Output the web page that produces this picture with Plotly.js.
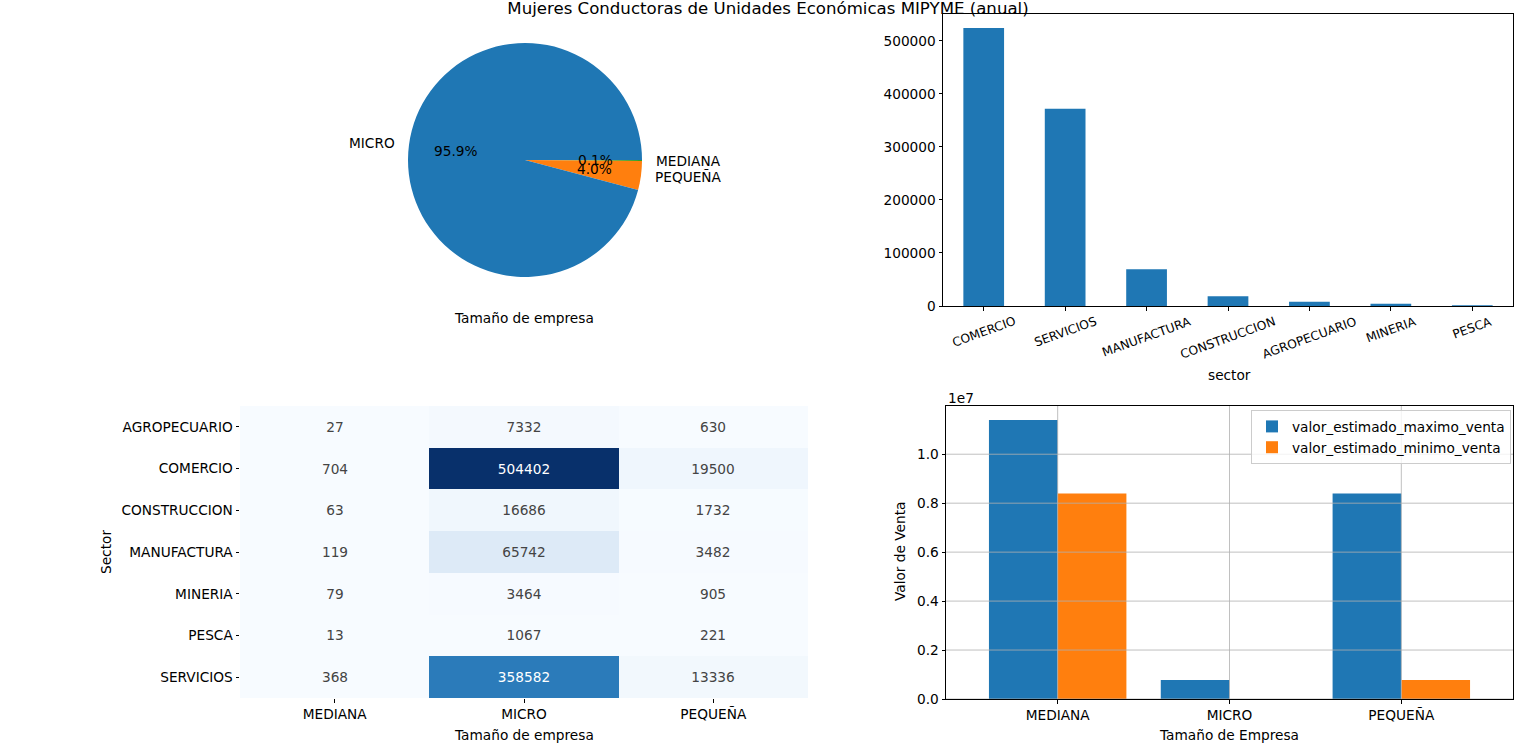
<!DOCTYPE html>
<html>
<head>
<meta charset="utf-8">
<script src="https://cdn.plot.ly/plotly-3.0.1.min.js"></script>
<style>
  html, body { margin: 0; padding: 0; background: #fff; }
  #chart { width: 1536px; height: 754px; }
</style>
</head>
<body>
<div id="chart"></div>
<script>
// sectors x company size (count of units run by women)
var sectores = ['AGROPECUARIO', 'COMERCIO', 'CONSTRUCCION', 'MANUFACTURA', 'MINERIA', 'PESCA', 'SERVICIOS'];
var tamanos = ['MEDIANA', 'MICRO', 'PEQUEÑA'];
var conteoMediana = [27, 704, 63, 119, 79, 13, 368];
var conteoMicro = [7332, 504402, 16686, 65742, 3464, 1067, 358582];
var conteoPequena = [630, 19500, 1732, 3482, 905, 221, 13336];

// pie order as it came out of value_counts
var pieLabels = ['MICRO', 'PEQUEÑA', 'MEDIANA'];

// estimated sales per size
var ventaMaxima = [11400000, 780000, 8400000];
var ventaMinima = [8400000, 0, 780000];

var C0 = '#1f77b4', C1 = '#ff7f0e', C2 = '#2ca02c';
var FONT = 'DejaVu Sans, sans-serif';
var FS = 13.7;
var W = 1536, H = 754;

function fx(px) { return px / W; }
function fy(py) { return 1 - py / H; }
function sum(a) { return a.reduce(function (s, v) { return s + v; }, 0); }

// ---- pie values ----
var totalsBySize = {MEDIANA: sum(conteoMediana), MICRO: sum(conteoMicro), 'PEQUEÑA': sum(conteoPequena)};
var pieValues = pieLabels.map(function (l) { return totalsBySize[l]; });
var pieTotal = sum(pieValues);
var pieColors = [C0, C1, C2];

// ---- sector totals, sorted ----
var sectorTotals = sectores.map(function (s, k) {
  return {s: s, v: conteoMediana[k] + conteoMicro[k] + conteoPequena[k]};
}).sort(function (a, b) { return b.v - a.v; });
var barSect = sectorTotals.map(function (d) { return d.s; });
var barVals = sectorTotals.map(function (d) { return d.v; });

// heatmap matrix
var z = sectores.map(function (s, k) { return [conteoMediana[k], conteoMicro[k], conteoPequena[k]]; });
var allZ = [].concat(conteoMediana, conteoMicro, conteoPequena);
var zmin = Math.min.apply(null, allZ), zmax = Math.max.apply(null, allZ);

var blues = [
  [0, '#f7fbff'], [0.125, '#deebf7'], [0.25, '#c6dbef'], [0.375, '#9ecae1'],
  [0.5, '#6baed6'], [0.625, '#4292c6'], [0.75, '#2171b5'], [0.875, '#08519c'], [1, '#08306b']
];

// pie: centre (525,160) px, radius 117 px
var PCX = 525, PCY = 160, PR = 117;
var pieDomX = [fx(PCX - PR), fx(PCX + PR)], pieDomY = [fy(PCY + PR), fy(PCY - PR)];
// text overlay axes, 1 unit = pie radius
var OX = 2, OY = 1.3;
var ovDomX = [fx(PCX - OX * PR), fx(PCX + OX * PR)], ovDomY = [fy(PCY + OY * PR), fy(PCY - OY * PR)];

var data = [
  {
    // matplotlib goes ccw from 3 o'clock; plotly clockwise with the order reversed is the same
    type: 'pie', labels: pieLabels.slice().reverse(), values: pieValues.slice().reverse(),
    sort: false, direction: 'clockwise', rotation: 90,
    marker: {colors: pieColors.slice().reverse(), line: {width: 0}},
    textinfo: 'none', hoverinfo: 'label+percent', showlegend: false,
    domain: {x: pieDomX, y: pieDomY}
  },
  {
    type: 'bar', x: barSect, y: barVals, width: 0.5,
    marker: {color: C0}, showlegend: false, xaxis: 'x', yaxis: 'y'
  },
  {
    type: 'heatmap', x: tamanos, y: sectores, z: z, zmin: zmin, zmax: zmax,
    colorscale: blues, showscale: false, texttemplate: '%{z:.0f}',
    textfont: {family: FONT, size: FS}, xgap: 0, ygap: 0,
    xaxis: 'x2', yaxis: 'y2'
  },
  {
    type: 'bar', name: 'valor_estimado_maximo_venta', x: tamanos, y: ventaMaxima,
    marker: {color: C0}, xaxis: 'x3', yaxis: 'y3'
  },
  {
    type: 'bar', name: 'valor_estimado_minimo_venta', x: tamanos, y: ventaMinima,
    marker: {color: C1}, xaxis: 'x3', yaxis: 'y3'
  }
];

var frame = {showline: true, linecolor: '#000', linewidth: 1, mirror: true,
  ticks: 'outside', ticklen: 3.5, tickwidth: 1, tickcolor: '#000',
  tickfont: {family: FONT, size: FS, color: '#000'}, zeroline: false};

var annotations = [
  {text: 'Tamaño de empresa', x: fx(524), y: fy(318)},
  {text: 'sector', x: fx(1229), y: fy(375)},
  {text: 'Tamaño de empresa', x: fx(524), y: fy(735)},
  {text: 'Sector', x: fx(106), y: fy(552), textangle: -90},
  {text: 'Tamaño de Empresa', x: fx(1229), y: fy(735)},
  {text: 'Valor de Venta', x: fx(900), y: fy(552), textangle: -90},
  {text: '1e7', x: fx(946), y: fy(398), xanchor: 'left'}
].map(function (a) {
  return Object.assign({xref: 'paper', yref: 'paper', showarrow: false,
    xanchor: 'center', yanchor: 'middle', font: {family: FONT, size: FS, color: '#000'}}, a);
});

// pie labels (1.1 r) and percentages (0.6 r), matplotlib style: start at 3 o'clock, ccw
var cum = 0;
pieValues.forEach(function (v, i) {
  var mid = (cum + v / 2) / pieTotal * 2 * Math.PI;
  cum += v;
  var c = Math.cos(mid), s = Math.sin(mid);
  annotations.push({text: pieLabels[i], x: 1.1 * c, y: 1.1 * s, xref: 'x4', yref: 'y4',
    showarrow: false, xanchor: c < 0 ? 'right' : 'left', yanchor: 'middle',
    font: {family: FONT, size: FS, color: '#000'}});
  annotations.push({text: (v / pieTotal * 100).toFixed(1) + '%', x: 0.6 * c, y: 0.6 * s,
    xref: 'x4', yref: 'y4', showarrow: false, xanchor: 'center', yanchor: 'middle',
    font: {family: FONT, size: FS, color: '#000'}});
});

// rotated sector tick labels, centred under each bar like matplotlib
barSect.forEach(function (s) {
  annotations.push({text: s, x: s, y: fy(312), xref: 'x', yref: 'paper',
    showarrow: false, textangle: -20, xanchor: 'center', yanchor: 'top',
    font: {family: FONT, size: 12.3, color: '#000'}});
});

var yTicks3 = [0, 2e6, 4e6, 6e6, 8e6, 1e7];

// grid drawn above the bars, as in the reference
var gridLine = {color: '#b0b0b0', width: 0.8};
var shapes = [];
yTicks3.forEach(function (v) {
  shapes.push({type: 'line', xref: 'x3 domain', yref: 'y3', x0: 0, x1: 1, y0: v, y1: v,
    line: gridLine, layer: 'above'});
});
tamanos.forEach(function (t) {
  shapes.push({type: 'line', xref: 'x3', yref: 'y3 domain', x0: t, x1: t, y0: 0, y1: 1,
    line: gridLine, layer: 'above'});
});

var layout = {
  width: W, height: H, margin: {l: 0, r: 0, t: 0, b: 0},
  paper_bgcolor: '#fff', plot_bgcolor: '#fff',
  font: {family: FONT, size: FS, color: '#000'},
  title: {text: 'Mujeres Conductoras de Unidades Económicas MIPYME (anual)',
    font: {family: FONT, size: 16.6, color: '#000'}, x: 0.5, xanchor: 'center',
    y: fy(8), yanchor: 'middle', yref: 'paper'},
  barmode: 'group', bargap: 0.2, bargroupgap: 0,
  xaxis: Object.assign({}, frame, {domain: [fx(943), fx(1513)], anchor: 'y',
    type: 'category', range: [-0.5, 6.5], showticklabels: false, showgrid: false}),
  yaxis: Object.assign({}, frame, {domain: [fy(306), fy(14)], anchor: 'x',
    range: [0, Math.max.apply(null, barVals) * 1.05], dtick: 100000, tickformat: 'd',
    showgrid: false}),
  xaxis2: {domain: [fx(240), fx(808)], anchor: 'y2', showline: false, showgrid: false,
    zeroline: false, ticks: 'outside', ticklen: 3.5, tickcolor: '#000',
    tickfont: {family: FONT, size: FS, color: '#000'}},
  yaxis2: {domain: [fy(698), fy(406)], anchor: 'x2', autorange: 'reversed',
    showline: false, showgrid: false, zeroline: false, ticks: 'outside', ticklen: 3.5,
    tickcolor: '#000', tickfont: {family: FONT, size: FS, color: '#000'}},
  xaxis3: Object.assign({}, frame, {domain: [fx(946), fx(1513)], anchor: 'y3',
    type: 'category', range: [-0.65, 2.65], showgrid: false}),
  yaxis3: Object.assign({}, frame, {domain: [fy(699), fy(406)], anchor: 'x3',
    range: [0, Math.max.apply(null, ventaMaxima) * 1.05], tickvals: yTicks3,
    ticktext: yTicks3.map(function (v) { return (v / 1e7).toFixed(1); }),
    showgrid: false}),
  xaxis4: {domain: ovDomX, anchor: 'y4', range: [-OX, OX], visible: false, fixedrange: true},
  yaxis4: {domain: ovDomY, anchor: 'x4', range: [-OY, OY], visible: false, fixedrange: true},
  legend: {x: fx(1511), y: fy(410), xanchor: 'right', yanchor: 'top',
    bgcolor: 'rgba(255,255,255,0.8)', bordercolor: '#cccccc', borderwidth: 1,
    font: {family: FONT, size: FS, color: '#000'}, tracegroupgap: 0},
  shapes: shapes,
  annotations: annotations
};

Plotly.newPlot('chart', data, layout, {displayModeBar: false, staticPlot: true});
</script>
</body>
</html>
